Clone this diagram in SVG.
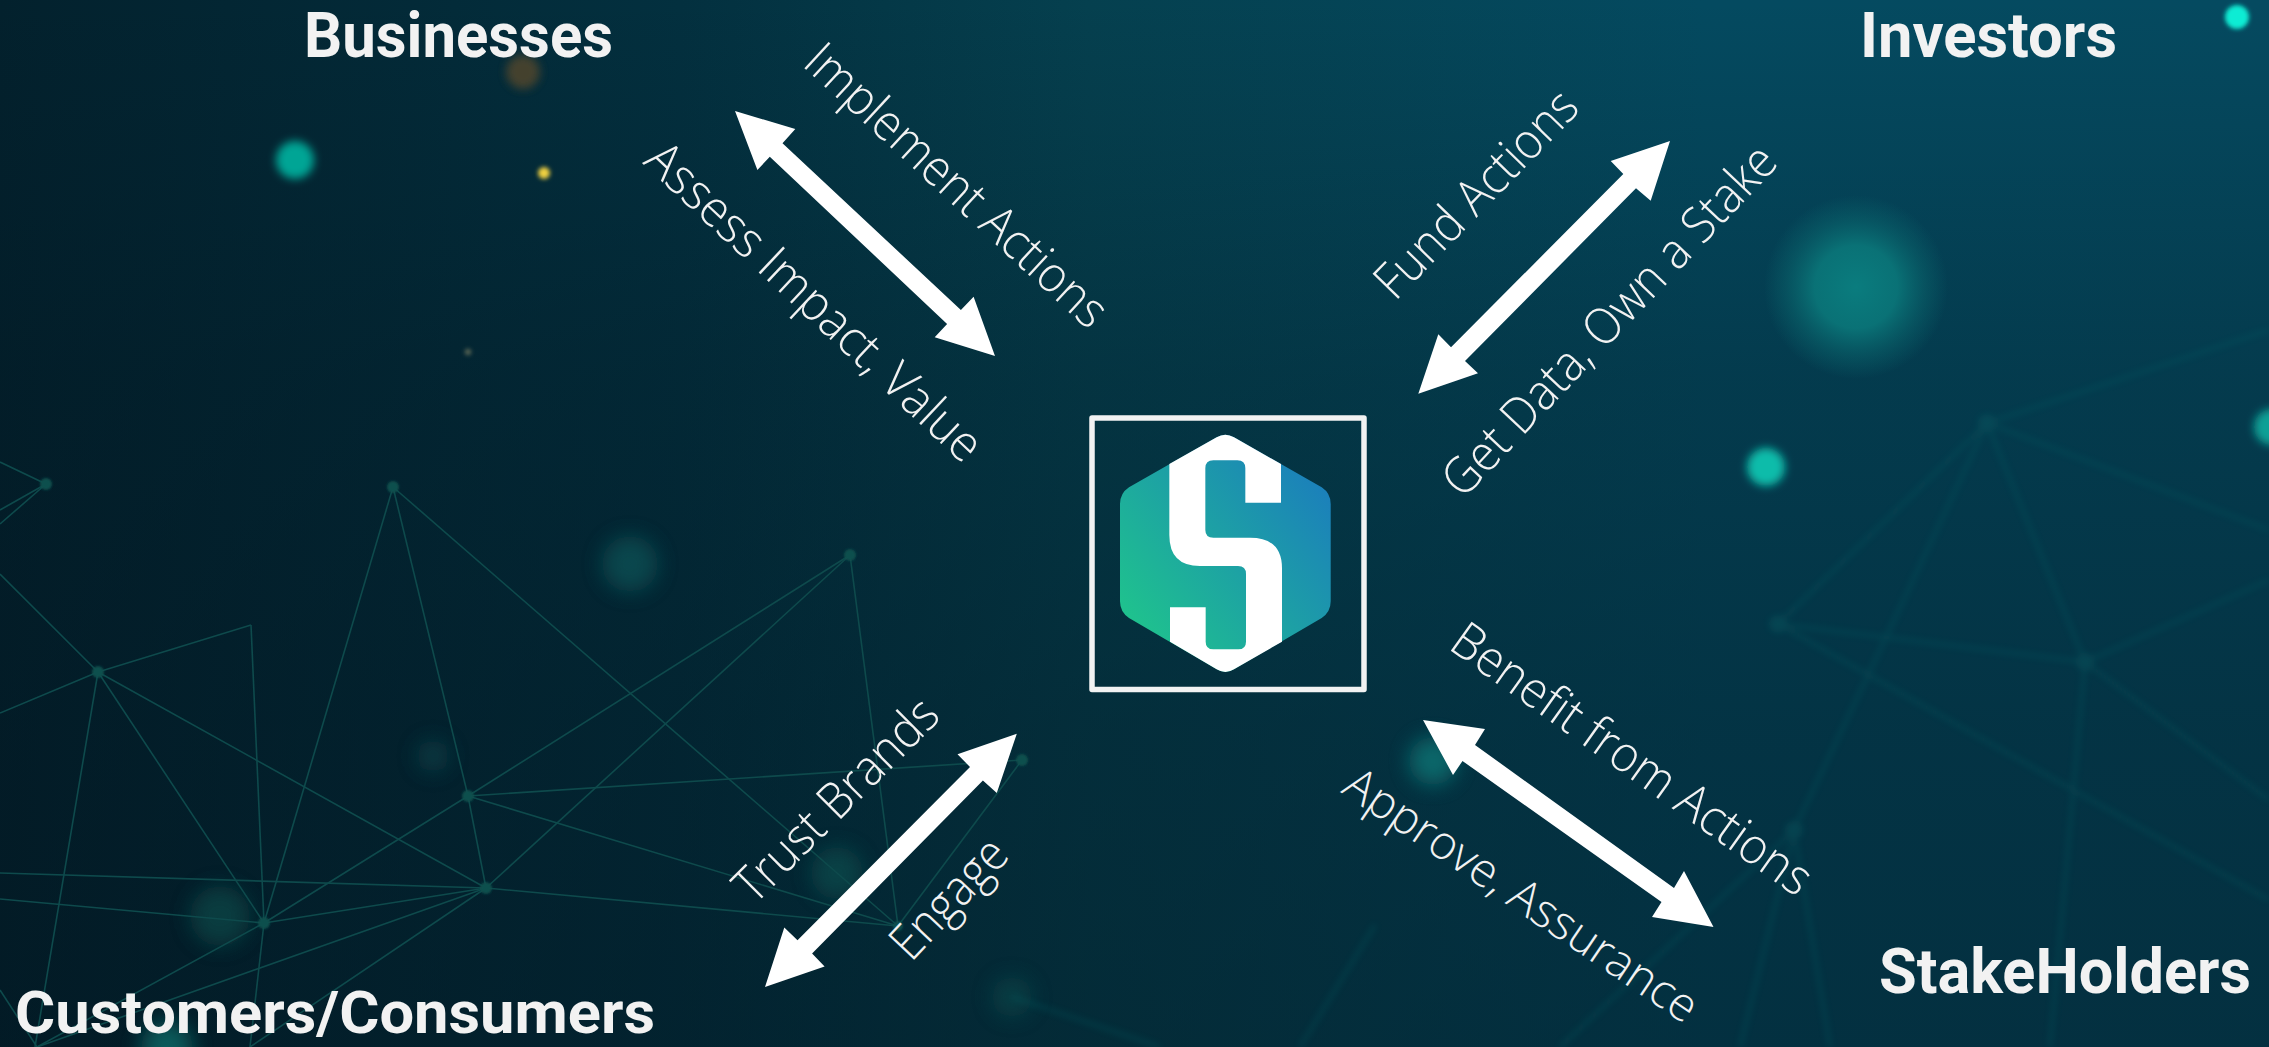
<svg xmlns="http://www.w3.org/2000/svg" width="2269" height="1047" viewBox="0 0 2269 1047">
<style>
.h{font-family:"Roboto","Liberation Sans",sans-serif;font-weight:700;font-size:63px;fill:#f2f2f2}
.l{font-family:"Open Sans","Liberation Sans",sans-serif;font-weight:300;font-size:50px;fill:#f2f2f2}
.n line{stroke:#0e4a4c;stroke-width:1.6}
.n circle{fill:#0c4f4e}
.r line{stroke:#0a6468;stroke-width:4}
.r circle{fill:#0b6c6e}
.a{fill:#fff}
</style>
<defs>
<linearGradient id="bg" x1="0" y1="0" x2="1" y2="0">
<stop offset="0" stop-color="#03212d"/><stop offset="0.3" stop-color="#03303f"/><stop offset="0.48" stop-color="#05404f"/><stop offset="0.75" stop-color="#044a60"/><stop offset="1" stop-color="#054a60"/>
</linearGradient>
<linearGradient id="shade" x1="0" y1="0" x2="0" y2="1">
<stop offset="0" stop-color="#02141e" stop-opacity="0"/><stop offset="0.36" stop-color="#02141e" stop-opacity="0.28"/><stop offset="0.7" stop-color="#02141e" stop-opacity="0.42"/><stop offset="1" stop-color="#02141e" stop-opacity="0.48"/>
</linearGradient>
<linearGradient id="hex" gradientUnits="userSpaceOnUse" x1="1135" y1="640" x2="1335" y2="480">
<stop offset="0" stop-color="#1fc48c"/><stop offset="1" stop-color="#1b7dbd"/>
</linearGradient>
<radialGradient id="big">
<stop offset="0" stop-color="#0a7c7e"/><stop offset="0.45" stop-color="#0a7679" stop-opacity=".92"/><stop offset="0.75" stop-color="#0a6a70" stop-opacity=".45"/><stop offset="1" stop-color="#0a6a70" stop-opacity="0"/>
</radialGradient>
<filter id="b1" x="-100%" y="-100%" width="300%" height="300%"><feGaussianBlur stdDeviation="1"/></filter>
<filter id="b2" x="-100%" y="-100%" width="300%" height="300%"><feGaussianBlur stdDeviation="2"/></filter>
<filter id="b3" x="-5%" y="-5%" width="110%" height="110%"><feGaussianBlur stdDeviation="3"/></filter>
<filter id="b4" x="-100%" y="-100%" width="300%" height="300%"><feGaussianBlur stdDeviation="4"/></filter>
<filter id="b10" x="-100%" y="-100%" width="300%" height="300%"><feGaussianBlur stdDeviation="10"/></filter>
</defs>
<rect id="background" width="2269" height="1047" fill="url(#bg)"/>
<rect width="2269" height="1047" fill="url(#shade)"/>
<g id="bokeh">
<circle cx="295" cy="160" r="19" fill="#00a595" filter="url(#b4)"/>
<circle cx="544" cy="173" r="6" fill="#f0d040" filter="url(#b2)"/>
<circle cx="523" cy="72" r="17" fill="#5a4a2c" opacity=".75" filter="url(#b4)"/>
<circle cx="468" cy="352" r="3" fill="#66705a" filter="url(#b2)"/>
<circle cx="1856" cy="287" r="92" fill="url(#big)"/>
<circle cx="1766" cy="467" r="19" fill="#0abcaa" filter="url(#b4)"/>
<circle cx="2237" cy="17" r="12" fill="#10ecd4" filter="url(#b2)"/>
<circle cx="2272" cy="427" r="18" fill="#0aa096" filter="url(#b4)"/>
<circle cx="630" cy="564" r="28" fill="#0a5558" opacity=".7" filter="url(#b10)"/>
<circle cx="433" cy="756" r="16" fill="#0a4248" opacity=".7" filter="url(#b10)"/>
<circle cx="220" cy="916" r="30" fill="#0a4a48" opacity=".7" filter="url(#b10)"/>
<circle cx="167" cy="1047" r="26" fill="#0a6a68" opacity=".8" filter="url(#b10)"/>
<circle cx="837" cy="873" r="26" fill="#0a5050" opacity=".65" filter="url(#b10)"/>
<circle cx="1012" cy="997" r="20" fill="#0a5050" opacity=".5" filter="url(#b10)"/>
<circle cx="1433" cy="761" r="24" fill="#0a7474" opacity=".8" filter="url(#b10)"/>
</g>
<g id="network-left" class="n">
<line x1="0" y1="462" x2="46" y2="484"/><line x1="0" y1="510" x2="46" y2="484"/><line x1="0" y1="524" x2="46" y2="484"/>
<line x1="0" y1="574" x2="98" y2="672"/><line x1="0" y1="713" x2="98" y2="672"/>
<line x1="98" y1="672" x2="251" y2="625"/><line x1="251" y1="625" x2="264" y2="923"/>
<line x1="98" y1="672" x2="35" y2="1047"/><line x1="98" y1="672" x2="264" y2="923"/><line x1="98" y1="672" x2="486" y2="888"/>
<line x1="393" y1="487" x2="264" y2="923"/><line x1="393" y1="487" x2="468" y2="796"/><line x1="393" y1="487" x2="898" y2="926"/>
<line x1="468" y1="796" x2="486" y2="888"/><line x1="468" y1="796" x2="264" y2="923"/><line x1="468" y1="796" x2="850" y2="555"/>
<line x1="486" y1="888" x2="850" y2="555"/><line x1="468" y1="796" x2="1022" y2="760"/><line x1="468" y1="796" x2="898" y2="926"/>
<line x1="486" y1="888" x2="898" y2="926"/><line x1="850" y1="555" x2="898" y2="926"/><line x1="898" y1="926" x2="1022" y2="760"/>
<line x1="264" y1="923" x2="486" y2="888"/><line x1="0" y1="873" x2="486" y2="888"/><line x1="0" y1="899" x2="264" y2="923"/>
<line x1="264" y1="923" x2="37" y2="1047"/><line x1="486" y1="888" x2="37" y2="1047"/><line x1="486" y1="888" x2="250" y2="1047"/>
<line x1="264" y1="923" x2="250" y2="1047"/><line x1="0" y1="990" x2="37" y2="1047"/>
<g filter="url(#b1)"><circle cx="46" cy="484" r="6"/><circle cx="393" cy="487" r="6"/><circle cx="98" cy="672" r="6"/><circle cx="468" cy="796" r="6"/><circle cx="486" cy="888" r="6"/><circle cx="264" cy="923" r="6"/><circle cx="850" cy="555" r="6"/><circle cx="1022" cy="760" r="6"/><circle cx="898" cy="926" r="5"/></g>
</g>
<g id="network-right" class="r" opacity=".28" filter="url(#b3)">
<line x1="1987" y1="423" x2="1778" y2="624"/><line x1="1987" y1="423" x2="2085" y2="662"/><line x1="1987" y1="423" x2="2269" y2="530"/><line x1="1987" y1="423" x2="2269" y2="330"/>
<line x1="1987" y1="423" x2="1880" y2="650"/><line x1="1880" y1="650" x2="1794" y2="830"/><line x1="1778" y1="624" x2="2085" y2="662"/><line x1="1778" y1="624" x2="2269" y2="900"/>
<line x1="2085" y1="662" x2="2050" y2="1047"/><line x1="2085" y1="662" x2="2269" y2="580"/><line x1="1794" y1="830" x2="1740" y2="1047"/><line x1="1794" y1="830" x2="1830" y2="1047"/><line x1="1794" y1="830" x2="1560" y2="1047"/>
<line x1="1012" y1="997" x2="1160" y2="1047"/><line x1="1300" y1="1047" x2="1375" y2="925"/><line x1="2085" y1="662" x2="2269" y2="800"/>
<circle cx="1987" cy="423" r="9"/><circle cx="1778" cy="624" r="9"/><circle cx="2085" cy="662" r="9"/><circle cx="1794" cy="830" r="9"/>
</g>
<g id="connectors">
<polygon class="a" points="735,111 795.300,129 782.500,143.300 960.900,310 973.600,296.700 995,356 934.700,337.300 947.100,324 769.800,156.700 757.400,170"/>
<polygon class="a" points="1670,141 1610.700,161 1623.300,174 1451,347.300 1438.300,334.300 1418.300,393.700 1478,373.300 1465,361 1636,188.300 1650.700,200.700"/>
<polygon class="a" points="1016.800,733.800 957.500,754.300 970,767 797.500,940.200 784.300,927.400 765,987 824.600,966.400 812.100,953.600 982.900,780.500 996.800,793"/>
<polygon class="a" points="1423,720 1485,729 1475,745 1674,888 1684,871 1713.500,927 1652,917 1661.500,902 1462.500,761 1453,775"/>
</g>
<g id="labels">
<text class="l" transform="translate(801 65) rotate(42.7)" textLength="392" lengthAdjust="spacingAndGlyphs">Implement Actions</text>
<text class="l" transform="translate(642 163) rotate(43.2)" textLength="441" lengthAdjust="spacingAndGlyphs">Assess Impact, Value</text>
<text class="l" transform="translate(1395 302) rotate(-45.9)" textLength="268" lengthAdjust="spacingAndGlyphs">Fund Actions</text>
<text class="l" transform="translate(1463 500) rotate(-46.7)" textLength="462" lengthAdjust="spacingAndGlyphs">Get Data, Own a Stake</text>
<text class="l" transform="translate(754 906) rotate(-45)" textLength="266" lengthAdjust="spacingAndGlyphs">Trust Brands</text>
<text class="l" transform="translate(911 963) rotate(-46.7)" textLength="146" lengthAdjust="spacingAndGlyphs">Engage</text>
<text class="l" transform="translate(1447 648) rotate(35.5)" textLength="430" lengthAdjust="spacingAndGlyphs">Benefit from Actions</text>
<text class="l" style="font-size:47px" transform="translate(1340 792) rotate(34)" textLength="416" lengthAdjust="spacingAndGlyphs">Approve, Assurance</text>
</g>
<g id="node-businesses"><text class="h" x="304" y="57" textLength="309" lengthAdjust="spacingAndGlyphs">Businesses</text></g>
<g id="node-investors"><text class="h" x="1860" y="57" textLength="257" lengthAdjust="spacingAndGlyphs">Investors</text></g>
<g id="node-stakeholders"><text class="h" x="1879" y="993" textLength="372" lengthAdjust="spacingAndGlyphs">StakeHolders</text></g>
<g id="node-customers"><text class="h" x="15" y="1033" style="font-size:60px" textLength="640" lengthAdjust="spacingAndGlyphs">Customers/Consumers</text></g>
<g id="node-platform">
<rect x="1092" y="418" width="272" height="271.500" fill="none" stroke="#f2f2f2" stroke-width="5.500" stroke-linejoin="round"/>
<path fill="url(#hex)" d="M1216.700 437.300Q1225.300 432 1234 437.300L1321.700 487.300Q1330.700 493.300 1330.700 504V601.300Q1330.700 612 1321.700 618L1234 669.300Q1225.300 674.700 1216.700 669.300L1129 618Q1120 612 1120 601.300V504Q1120 493.300 1129 487.300Z"/>
<g transform="translate(1000 380) scale(.33333)">
<path fill="#fff" d="M508 252L650 172Q676 156 702 172L843 252V368H736V265Q736 241 712 241H640Q616 241 616 265V450Q616 473 640 473H750Q846 473 846 565V785L702 868Q676 884 650 868L510 785V682H617V785Q617 808 640 808H715Q738 808 738 785V582Q738 558 714 558H600Q508 558 508 465Z"/>
</g>
</g>
</svg>
